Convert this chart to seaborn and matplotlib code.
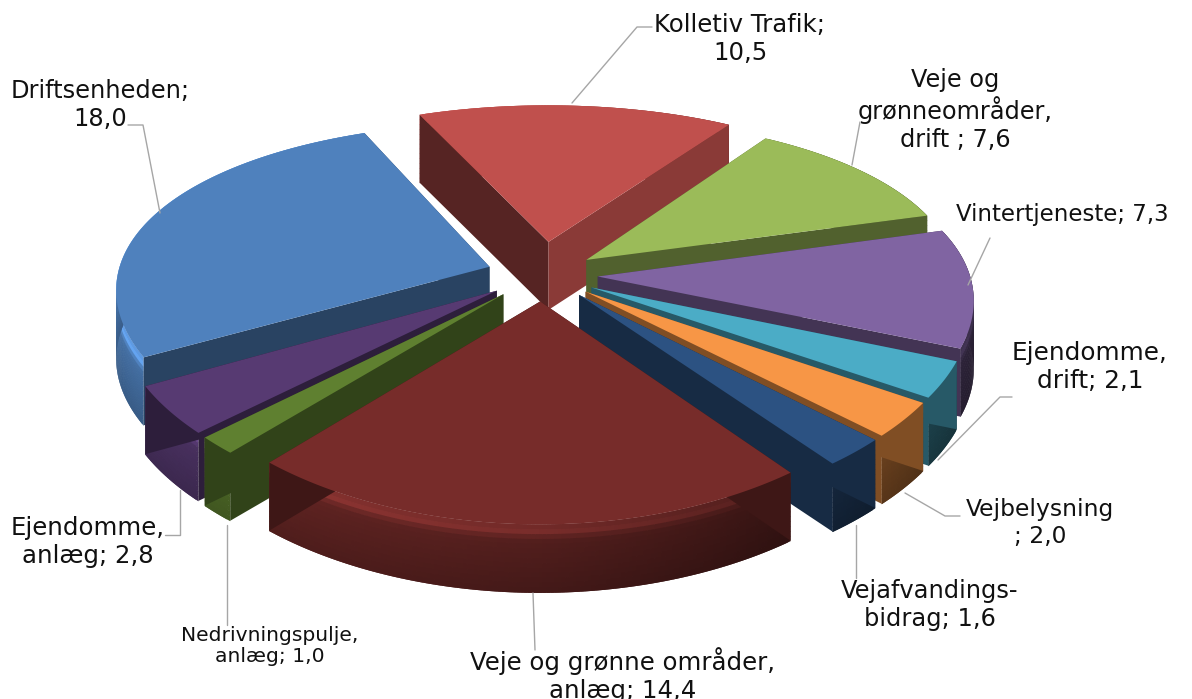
import numpy as np
import matplotlib
matplotlib.use("Agg")
import matplotlib.pyplot as plt
import seaborn as sns

# data, clockwise from the top
names = ["Kolletiv Trafik", "Veje og grønneområder, drift", "Vintertjeneste",
         "Ejendomme, drift", "Vejbelysning", "Vejafvandingsbidrag",
         "Veje og grønne områder, anlæg", "Nedrivningspulje, anlæg",
         "Ejendomme, anlæg", "Driftsenheden"]
values = [10.5, 7.6, 7.3, 2.1, 2.0, 1.6, 14.4, 1.0, 2.8, 18.0]
colors = ["#c0504d", "#9bbb59", "#8064a2", "#4bacc6", "#f79646",
          "#2c5282", "#772c2a", "#5f8030", "#573a72", "#4f81bd"]

label_texts = ["Kolletiv Trafik;\n10,5", "Veje og\ngrønneområder,\ndrift ; 7,6",
               "Vintertjeneste; 7,3", "Ejendomme,\ndrift; 2,1", "Vejbelysning\n; 2,0",
               "Vejafvandings-\nbidrag; 1,6", "Veje og grønne områder,\nanlæg; 14,4",
               "Nedrivningspulje,\nanlæg; 1,0", "Ejendomme,\nanlæg; 2,8",
               "Driftsenheden;\n18,0"]

# layout in pixels
label_pos = [(740, 39), (955, 110), (1062, 214), (1090, 367), (1040, 523),
             (930, 605), (623, 675), (270, 646), (88, 542), (100, 105)]
label_size = [17.6, 17.3, 16.5, 17.8, 16.8, 17.4, 17.6, 14.6, 17.6, 17.4]
leaders = [[(652, 27), (637, 27), (572, 103)],
           [(860, 122), (852, 165)],
           [(990, 238), (968, 285)],
           [(1012, 397), (1000, 397), (938, 460)],
           [(960, 516), (945, 516), (905, 493)],
           [(856, 525), (856, 578)],
           [(533, 593), (535, 650)],
           [(227, 525), (227, 625)],
           [(180, 490), (180, 535), (165, 535)],
           [(128, 125), (143, 125), (160, 213)]]

START = -23.0
CX, CY = 542, 275
A, B = 372, 172
KX, KY = 0.12, 0.18
EXPLODE = 0.15
DEPTH = 68
# rim shading from its top edge down: lit rounded edge, then darker
BAND_T = np.linspace(0, 1, 15)
BAND_LIGHT = 1 + 0.45 * np.exp(-(((BAND_T[:-1] - 0.05) / 0.09) ** 2)) - 0.22 * BAND_T[:-1]

sns.set_theme(style="white")
plt.rcParams["font.family"] = ["DejaVu Sans"]
palette = sns.color_palette(colors)


def project(u, v):
    return CX + A * u / (1 - KX * v), CY + B * v / (1 - KY * v)


def shade(col, f):
    return tuple(np.clip(np.array(col) * f, 0, 1))


fig, ax = plt.subplots(figsize=(11.92, 6.99), dpi=100)
fig.subplots_adjust(0, 0, 1, 1)
ax.set_xlim(0, 1192)
ax.set_ylim(699, 0)
ax.axis("off")

sweeps = np.array(values) / sum(values) * 360
starts = START + np.concatenate([[0], np.cumsum(sweeps)[:-1]])
mids = starts + sweeps / 2
order = np.argsort(-np.cos(np.radians(mids)))

for i in order:
    col = palette[i]
    mid = np.radians(mids[i])
    ex = EXPLODE + (0.05 if i == 0 else 0)
    ou, ov = ex * np.sin(mid), -ex * np.cos(mid)
    th = np.radians(np.linspace(starts[i], starts[i] + sweeps[i], max(int(sweeps[i] * 2), 8)))
    xs, ys = project(ou + np.sin(th), ov - np.cos(th))
    tx, ty = project(ou, ov)

    # outer rim, darker towards the right, overlapped so no seams show
    for j in range(len(th) - 1):
        k = min(j + 2, len(th) - 1)
        f = np.interp(np.sin(th[j]), [-1, 0, 1], [0.92, 0.72, 0.34])
        for b in range(len(BAND_LIGHT)):
            ax.fill([xs[j], xs[k], xs[k], xs[j]],
                    [ys[j] + BAND_T[b] * DEPTH, ys[k] + BAND_T[b] * DEPTH,
                     ys[k] + BAND_T[b + 1] * DEPTH + 0.5, ys[j] + BAND_T[b + 1] * DEPTH + 0.5],
                    color=shade(col, f * BAND_LIGHT[b]), lw=0)

    # radial walls
    f_start, f_end = (0.45, 0.72) if i == 0 else (0.52, 0.52)
    ax.fill([tx, xs[0], xs[0], tx], [ty, ys[0], ys[0] + DEPTH, ty + DEPTH],
            color=shade(col, f_start), lw=0)
    ax.fill([tx, xs[-1], xs[-1], tx], [ty, ys[-1], ys[-1] + DEPTH, ty + DEPTH],
            color=shade(col, f_end), lw=0)

    # top face
    ax.fill(np.r_[tx, xs], np.r_[ty, ys], color=col, lw=0)

for pts in leaders:
    ax.plot(*zip(*pts), color="#a6a6a6", lw=1)

for text, (x, y), size in zip(label_texts, label_pos, label_size):
    ax.text(x, y, text, ha="center", va="center", fontsize=size,
            color="#111111", linespacing=1.18)

fig.savefig("out.png", dpi=100)
